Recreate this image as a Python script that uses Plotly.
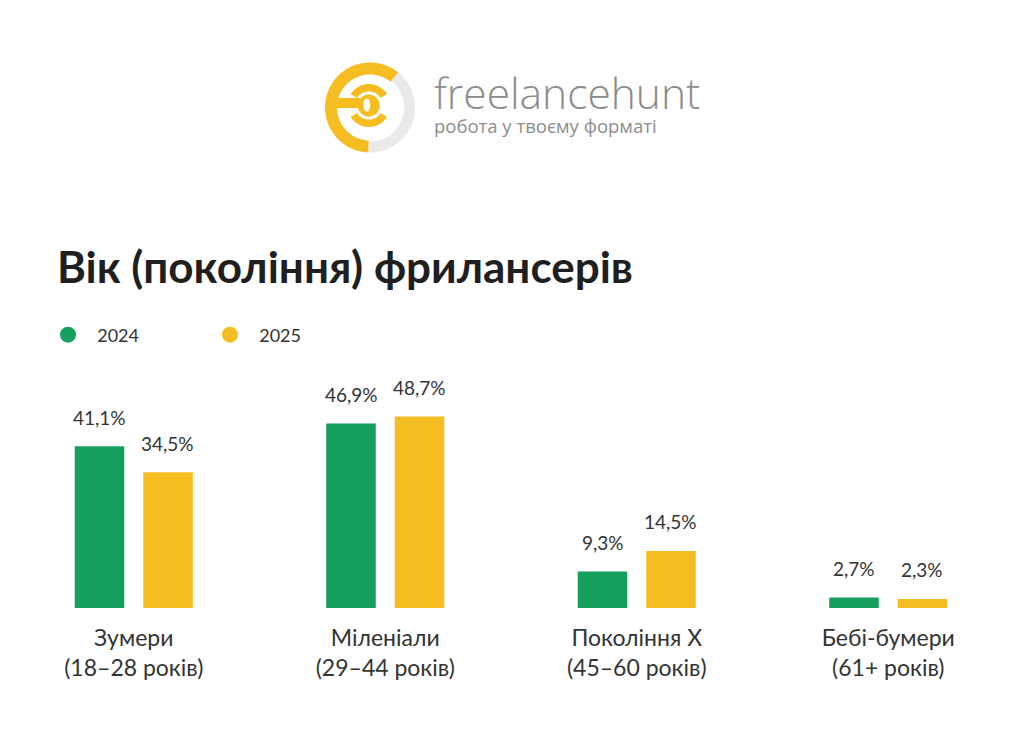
import numpy as np
import plotly.graph_objects as go

# data
generations = ["Зумери", "Міленіали", "Покоління X", "Бебі-бумери"]
age_ranges = ["18–28 років", "29–44 років", "45–60 років", "61+ років"]
share_2024 = [41.1, 46.9, 9.3, 2.7]
share_2025 = [34.5, 48.7, 14.5, 2.3]
years = ["2024", "2025"]

GREEN = "#17A05D"
YELLOW = "#F6BD22"
LOGO_GREY = "#8C8C8C"
RING_GREY = "#E9E9E9"
TEXT = "#333333"
FONT = "Lato"

categories = [f"{g}<br>({a})" for g, a in zip(generations, age_ranges)]

# page geometry: the browser body keeps its 8px margin round the figure
OFF = 8
FW, FH = 1024 - 2 * OFF, 739 - 2 * OFF
ML, MR, MT, MB = 0, 2, 364, 123
PW = FW - ML - MR
PH = FH - MT - MB


def px(x):
    return (x - OFF - ML) / PW


def py(y):
    return (FH - MB - (y - OFF)) / PH


def fmt(v):
    return f"{v:.1f}".replace(".", ",") + "%"


def ring(cx, cy, r_out, r_in, a0, a1, n=80):
    # annulus sector in page pixels -> svg path in paper coords
    t = np.radians(np.linspace(a0, a1, n))
    pts = [(cx + r_out * np.cos(a), cy - r_out * np.sin(a)) for a in t]
    pts += [(cx + r_in * np.cos(a), cy - r_in * np.sin(a)) for a in t[::-1]]
    return "M " + " L ".join(f"{px(x):.5f},{py(y):.5f}" for x, y in pts) + " Z"


fig = go.Figure()

for vals, color in [(share_2024, GREEN), (share_2025, YELLOW)]:
    fig.add_trace(go.Bar(
        x=categories, y=vals,
        marker=dict(color=color, line_width=0),
        showlegend=False, hoverinfo="skip",
    ))

# legend entries drawn as round markers
for name, color in zip(years, [GREEN, YELLOW]):
    fig.add_trace(go.Scatter(
        x=[None], y=[None], mode="markers", name="\u00a0\u00a0" + name,
        marker=dict(size=18, color=color, symbol="circle"),
    ))

# value labels above the bars
for vals, shift in [(share_2024, -34), (share_2025, 34)]:
    for cat, v in zip(categories, vals):
        fig.add_annotation(
            x=cat, y=v, text=fmt(v), showarrow=False,
            xshift=shift, yshift=29, yanchor="middle",
            font=dict(size=19, color=TEXT, family=FONT),
        )

# logo: ring icon
logo_shapes = [
    dict(path=ring(370, 107.5, 45, 33, 51, 268), color=YELLOW),
    dict(path=ring(370, 107.5, 45, 34, 268, 411), color=RING_GREY),
    dict(path=ring(368.8, 105.5, 21.5, 14, 32, 148), color=YELLOW),
    dict(path=ring(368.8, 105.5, 21.5, 14, 212, 328), color=YELLOW),
    dict(path=ring(368.8, 105.5, 11, 0, 0, 360), color=YELLOW),
]
for s in logo_shapes:
    fig.add_shape(type="path", path=s["path"], xref="paper", yref="paper",
                  fillcolor=s["color"], line_width=0, layer="above")
fig.add_shape(type="rect", xref="paper", yref="paper",
              x0=px(335), x1=px(360), y0=py(108), y1=py(98),
              fillcolor=YELLOW, line_width=0, layer="above")
fig.add_shape(type="circle", xref="paper", yref="paper",
              x0=px(363.4), x1=px(370.2), y0=py(111.8), y1=py(98.4),
              fillcolor="white", line_width=0, layer="above")

# logo: wordmark and slogan in one text block
fig.add_annotation(
    x=px(432), y=py(139.5), xref="paper", yref="paper",
    xanchor="left", yanchor="bottom", align="left", showarrow=False,
    text=("<span style='font-size:42.5px;font-weight:300'>freelancehunt</span>"
          "<br>робота у твоєму форматі"),
    font=dict(family="Open Sans", size=18.5, color=LOGO_GREY),
)

fig.update_layout(
    width=FW, height=FH,
    margin=dict(l=ML, r=MR, t=MT, b=MB, autoexpand=False),
    paper_bgcolor="white", plot_bgcolor="white",
    font=dict(family=FONT, color=TEXT),
    barmode="group", bargap=0.455, bargroupgap=0.277,
    title=dict(
        text="Вік (покоління) фрилансерів",
        x=(57 - OFF) / FW, xanchor="left", xref="container",
        y=(FH - (268 - OFF)) / FH, yanchor="middle", yref="container",
        font=dict(family=FONT, size=44, color="#1F1F1F", weight="bold"),
    ),
    legend=dict(
        orientation="h", x=px(48), y=py(335), xanchor="left", yanchor="middle",
        font=dict(size=18, color=TEXT, family=FONT),
        entrywidth=117, entrywidthmode="pixels", bgcolor="rgba(0,0,0,0)",
    ),
    xaxis=dict(
        range=[-0.5, 3.5], showgrid=False, showline=False, zeroline=False,
        ticks="", tickfont=dict(size=23, color=TEXT, family=FONT),
        ticklabelstandoff=14, fixedrange=True,
    ),
    yaxis=dict(range=[0, 60], visible=False, fixedrange=True),
)

fig.write_html("out.html")
